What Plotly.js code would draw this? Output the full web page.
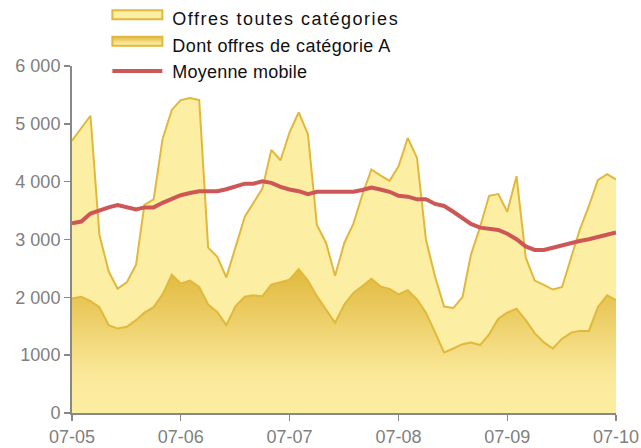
<!DOCTYPE html>
<html>
<head>
<meta charset="utf-8">
<script src="https://cdn.plot.ly/plotly-3.0.1.min.js"></script>
<style>
html,body{margin:0;padding:0;background:#fff;}
#chart{width:641px;height:448px;}
.legend .scrollbox{clip-path:none !important;}
.legend .legendtext{transform:translateX(5px);}
.legend .traces:nth-child(1) .legendtext{letter-spacing:1.5px;}
.legend .traces:nth-child(2) .legendtext{letter-spacing:0.4px;}
.legend .traces:nth-child(3) .legendtext{letter-spacing:0.2px;}
.legend .traces:nth-child(-n+2) .legendlines{display:none;}
.legend .legendfill path{transform:translateY(-5px) scale(1,1.5);stroke:#E2B83C !important;stroke-width:2px !important;stroke-opacity:1 !important;vector-effect:non-scaling-stroke;}
</style>
</head>
<body>
<div id="chart"></div>
<script>
// Monthly data, July 2005 to July 2010
const startYear = 2005, startMonth = 7;
const offresToutes = [
  4710, 4930, 5140, 3080, 2450, 2150, 2260, 2565, 3600, 3695, 4740, 5240,
  5410, 5445, 5410, 2860, 2700, 2345, 2880, 3395, 3625, 3880, 4550, 4370,
  4850, 5200, 4820, 3250, 2940, 2375, 2940, 3280, 3765, 4210, 4110, 4015,
  4265, 4755, 4410, 3000, 2350, 1840, 1815, 2010, 2735, 3220, 3755, 3785,
  3480, 4095, 2690, 2290, 2215, 2135, 2180, 2715, 3165, 3580, 4025, 4130,
  4040
];
const offresCatA = [
  1980, 2010, 1935, 1830, 1520, 1460, 1490, 1605, 1735, 1830, 2050, 2390,
  2240, 2290, 2180, 1875, 1745, 1520, 1850, 2010, 2035, 2020, 2220, 2260,
  2305, 2490, 2290, 2020, 1790, 1560, 1875, 2080, 2190, 2320, 2190, 2145,
  2050, 2125, 1965, 1735, 1390, 1045, 1115, 1190, 1220, 1175, 1360, 1630,
  1735, 1805, 1605, 1380, 1220, 1115, 1285, 1390, 1420, 1420, 1830, 2035,
  1950
];
const moyenneMobile = [
  3280, 3310, 3450, 3510, 3555, 3595, 3555, 3520, 3555, 3555, 3635, 3700,
  3765, 3805, 3835, 3835, 3835, 3870, 3910, 3965, 3965, 4005, 3980, 3910,
  3865, 3835, 3785, 3825, 3825, 3825, 3825, 3825, 3855, 3900, 3865, 3825,
  3755, 3740, 3695, 3695, 3615, 3580, 3480, 3380, 3270, 3205, 3180, 3165,
  3100, 3005, 2880, 2820, 2820, 2860, 2910, 2935, 2975, 3005, 3040, 3080,
  3120
];
const seriesNames = ["Offres toutes catégories", "Dont offres de catégorie A", "Moyenne mobile"];
const yTickVals = [0, 1000, 2000, 3000, 4000, 5000, 6000];
const yTickText = ["0", "1000", "2 000", "3 000", "4 000", "5 000", "6 000"];

function pad(n){ return (n < 10 ? "0" : "") + n; }
const months = offresToutes.map((_, i) => {
  const m0 = startMonth - 1 + i;
  const y = startYear + Math.floor(m0 / 12);
  const m = (m0 % 12) + 1;
  return y + "-" + pad(m) + "-01";
});
const xTickVals = months.filter((_, i) => i % 12 === 0);

const traces = [
  {
    x: months, y: offresToutes, name: seriesNames[0],
    type: "scatter", mode: "lines", fill: "tozeroy",
    fillcolor: "#FCEEA2",
    line: {color: "#E2B83C", width: 2}
  },
  {
    x: months, y: offresCatA, name: seriesNames[1],
    type: "scatter", mode: "lines", fill: "tozeroy",
    fillgradient: {type: "vertical", start: 0, stop: 2500,
      colorscale: [[0, "#FCEDA1"], [0.25, "#FBE99B"], [1, "#E0B83C"]]},
    line: {color: "#E2B83C", width: 2}
  },
  {
    x: months, y: moyenneMobile, name: seriesNames[2],
    type: "scatter", mode: "lines",
    line: {color: "#CD5757", width: 4}
  }
];

const layout = {
  width: 641, height: 448,
  margin: {l: 72, r: 25, t: 66, b: 35, autoexpand: false},
  paper_bgcolor: "#fff", plot_bgcolor: "#fff",
  font: {family: "Liberation Sans, Arial, sans-serif", size: 18, color: "#808080"},
  showlegend: true,
  legend: {
    x: 0.065, y: 1.19, xanchor: "left", yanchor: "top",
    bgcolor: "rgba(0,0,0,0)",
    font: {size: 18, color: "#111"},
    tracegroupgap: 0, itemwidth: 50
  },
  xaxis: {
    type: "date",
    range: [months[0], months[months.length - 1]],
    tickvals: xTickVals, tickformat: "%m-%y",
    ticks: "outside", ticklen: 6, tickcolor: "#888", tickwidth: 1.5,
    showline: true, linecolor: "#888", linewidth: 2,
    showgrid: false, zeroline: false,
    tickfont: {size: 18, color: "#808080"}
  },
  yaxis: {
    range: [0, 6000],
    tickvals: yTickVals, ticktext: yTickText,
    ticks: "outside", ticklen: 6, tickcolor: "#888", tickwidth: 1.5,
    showline: true, linecolor: "#888", linewidth: 2,
    showgrid: false, zeroline: false,
    tickfont: {size: 18, color: "#808080"}
  }
};

Plotly.newPlot("chart", traces, layout, {displayModeBar: false, staticPlot: true});
</script>
</body>
</html>
